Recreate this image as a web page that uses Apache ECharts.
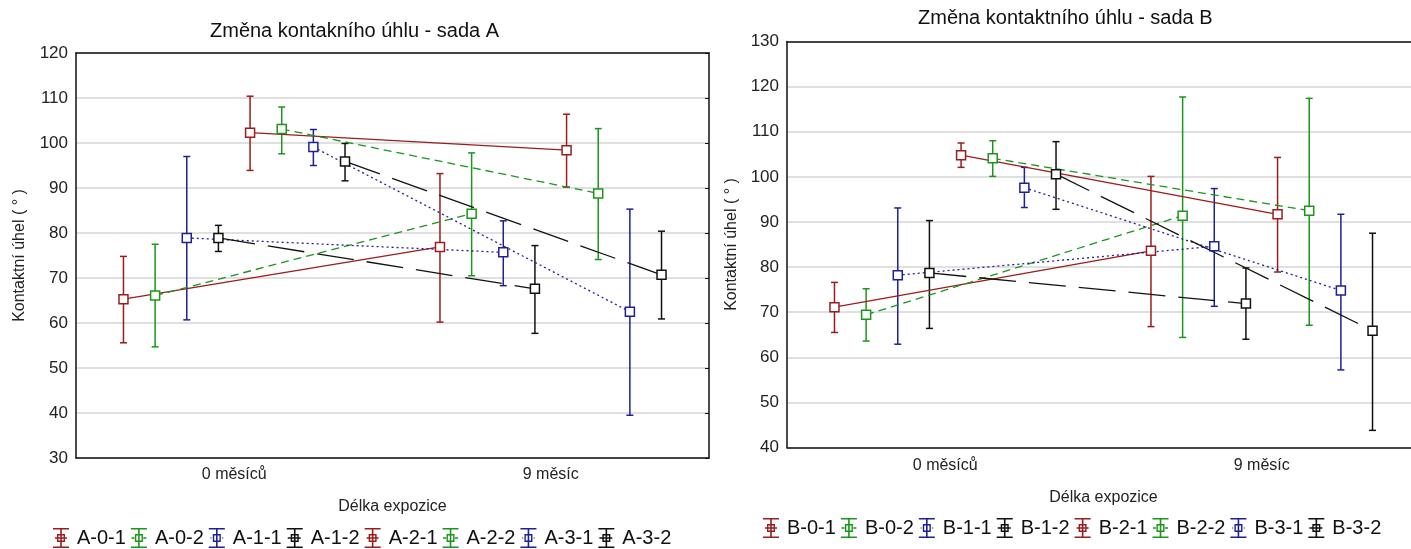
<!DOCTYPE html>
<html>
<head>
<meta charset="utf-8">
<script src="https://cdn.jsdelivr.net/npm/echarts@6/dist/echarts.min.js"></script>
<style>
  html, body { margin: 0; padding: 0; background: #ffffff; overflow: hidden; }
  #chart { width: 1430px; height: 549px; }
</style>
</head>
<body>
<div id="chart"></div>
<script>
// Exposure length categories
const categories = ['0 měsíců', '9 měsíc'];

// Set A: sample names, means and confidence limits at 0 and 9 months
const namesA  = ['A-0-1', 'A-0-2', 'A-1-1', 'A-1-2', 'A-2-1', 'A-2-2', 'A-3-1', 'A-3-2'];
const meanA0  = [65.3, 66.1, 78.9, 78.9, 102.3, 103.1, 99.1, 95.9];
const lowA0   = [55.6, 54.7, 60.7, 75.9, 93.9, 97.6, 95.0, 91.6];
const highA0  = [74.8, 77.5, 97.0, 81.7, 110.4, 108.0, 103.0, 99.9];
const meanA9  = [76.9, 84.3, 75.7, 67.6, 98.4, 88.8, 62.5, 70.7];
const lowA9   = [60.2, 70.5, 68.3, 57.7, 90.2, 74.1, 39.5, 60.9];
const highA9  = [93.2, 97.8, 82.7, 77.2, 106.4, 103.2, 85.3, 80.4];

// Set B
const namesB  = ['B-0-1', 'B-0-2', 'B-1-1', 'B-1-2', 'B-2-1', 'B-2-2', 'B-3-1', 'B-3-2'];
const meanB0  = [71.1, 69.4, 78.2, 78.7, 104.8, 104.1, 97.6, 100.6];
const lowB0   = [65.5, 63.6, 62.9, 66.4, 102.1, 100.1, 93.2, 92.8];
const highB0  = [76.6, 75.2, 93.1, 90.3, 107.5, 108.0, 102.1, 107.8];
const meanB9  = [83.6, 91.4, 84.6, 71.9, 91.7, 92.5, 74.8, 65.9];
const lowB9   = [66.8, 64.4, 71.3, 64.0, 78.9, 67.1, 57.2, 43.8];
const highB9  = [100.1, 117.7, 97.4, 79.8, 104.3, 117.4, 91.7, 87.5];

// Y-axis ranges
const yRangeA = [30, 120];
const yRangeB = [40, 130];

// Styling per series slot (repeats every 4 series)
const RED = '#9b1c1c', GREEN = '#1b961b', BLUE = '#1f1f99', BLACK = '#111111';
const palette = [RED, GREEN, BLUE, BLACK, RED, GREEN, BLUE, BLACK];
const dashes = ['solid', [8, 5], [2, 3], [37, 13], 'solid', [8, 5], [2, 3], [37, 13]];
const FONT = 'Liberation Sans, Arial, Helvetica, sans-serif';

// Legend glyph: capped error bar with a box marker and a short line stub
const glyphBase = 'M1 0H17V1.6H1Z M1 18.4H17V20H1Z M8.2 1.6H9.8V18.4H8.2Z ' +
  'M5 6H13V7.4H5Z M5 12.6H13V14H5Z M5 6H6.4V14H5Z M11.6 6H13V14H11.6Z';
const stubs = {
  solid:  'M3 9.3H15V10.7H3Z',
  dash:   'M1.5 9.3H4.6V10.7H1.5Z M13.4 9.3H16.5V10.7H13.4Z',
  dot:    'M2.6 9.4H3.8V10.6H2.6Z M14.2 9.4H15.4V10.6H14.2Z',
  long:   'M2 9.3H15V10.7H2Z'
};
const stubKind = ['solid', 'dash', 'dot', 'long', 'solid', 'dash', 'dot', 'long'];

// Horizontal offset of each series inside its category (fraction of a category)
function slot(i) { return (i - 3.5) * 0.1; }

function renderErrorBar(params, api) {
  const x = api.value(0), lo = api.value(1), hi = api.value(2), idx = api.value(3);
  const a = api.coord([x, lo]);
  const b = api.coord([x, hi]);
  const col = palette[idx];
  const cap = 3.5;
  const st = { stroke: col, lineWidth: 1.5 };
  return {
    type: 'group',
    children: [
      { type: 'line', shape: { x1: a[0], y1: a[1], x2: b[0], y2: b[1] }, style: st },
      { type: 'line', shape: { x1: a[0] - cap, y1: a[1], x2: a[0] + cap, y2: a[1] }, style: st },
      { type: 'line', shape: { x1: b[0] - cap, y1: b[1], x2: b[0] + cap, y2: b[1] }, style: st }
    ]
  };
}

function buildPanel(g, yRange) {
  const xAxes = [
    { // category axis carrying labels and bottom ticks
      type: 'category', gridIndex: g, data: categories, position: 'bottom',
      boundaryGap: true,
      axisLine: { onZero: false, lineStyle: { color: '#111', width: 1.5 } },
      axisTick: { inside: true, length: 4, alignWithLabel: true, lineStyle: { color: '#111' } },
      axisLabel: { fontFamily: FONT, fontSize: 16, color: '#222', margin: 9 },
      name: 'Délka expozice', nameLocation: 'middle', nameGap: 41,
      nameTextStyle: { fontFamily: FONT, fontSize: 16, color: '#222' }
    },
    { // frame on top
      type: 'category', gridIndex: g, data: categories, position: 'top',
      boundaryGap: true,
      axisLine: { onZero: false, lineStyle: { color: '#111', width: 1.5 } },
      axisTick: { inside: true, length: 4, alignWithLabel: true, lineStyle: { color: '#111' } },
      axisLabel: { show: false }
    },
    { // numeric axis used to place the points
      type: 'value', gridIndex: g, min: -0.5, max: 1.5, show: false,
      axisLine: { onZero: false }
    }
  ];
  const yAxes = [
    {
      type: 'value', gridIndex: g, min: yRange[0], max: yRange[1], interval: 10,
      position: 'left',
      axisLine: { show: true, onZero: false, lineStyle: { color: '#111', width: 1.5 } },
      axisTick: { show: false },
      axisLabel: { fontFamily: FONT, fontSize: 17, color: '#222', margin: 8 },
      splitLine: { show: true, lineStyle: { color: '#d6d6d6', width: 1.5 } },
      name: 'Kontaktní úhel ( ° )', nameLocation: 'middle', nameGap: 48,
      nameTextStyle: { fontFamily: FONT, fontSize: 16, color: '#222' }
    },
    {
      type: 'value', gridIndex: g, min: yRange[0], max: yRange[1], interval: 10,
      position: 'right',
      axisLine: { show: true, onZero: false, lineStyle: { color: '#111', width: 1.5 } },
      axisTick: { show: true, inside: true, length: 4, lineStyle: { color: '#111' } },
      axisLabel: { show: false },
      splitLine: { show: false }
    }
  ];
  return { xAxes, yAxes };
}

const panelA = buildPanel(0, yRangeA);
const panelB = buildPanel(1, yRangeB);
panelB.yAxes[0].nameGap = 47;
panelB.xAxes[0].axisLabel.margin = 10;
panelB.xAxes[0].nameGap = 42;

const xAxis = panelA.xAxes.concat(panelB.xAxes);   // indices 0-2 (A), 3-5 (B)
const yAxis = panelA.yAxes.concat(panelB.yAxes);   // indices 0-1 (A), 2-3 (B)

// Each sample: a custom error-bar series (drives the legend glyph) and a line with box markers
function panelSeries(names, mean0, mean9, low0, high0, low9, high9, xIdx, yIdx) {
  const out = [];
  names.forEach((n, i) => {
    out.push({
      type: 'custom',
      name: n,
      xAxisIndex: xIdx, yAxisIndex: yIdx,
      dimensions: ['x', 'low', 'high', 'idx'],
      encode: { x: 0, y: [1, 2] },
      data: [
        [0 + slot(i), low0[i], high0[i], i],
        [1 + slot(i), low9[i], high9[i], i]
      ],
      itemStyle: { color: palette[i] },
      renderItem: renderErrorBar,
      z: 2, silent: true, clip: false
    });
  });
  names.forEach((n, i) => {
    out.push({
      type: 'line',
      name: n,
      xAxisIndex: xIdx, yAxisIndex: yIdx,
      data: [[0 + slot(i), mean0[i]], [1 + slot(i), mean9[i]]],
      symbol: 'rect', symbolSize: 9,
      itemStyle: { color: '#ffffff', borderColor: palette[i], borderWidth: 1.5 },
      lineStyle: { color: palette[i], width: 1.3, type: dashes[i] },
      z: 3, silent: true, animation: false, clip: false
    });
  });
  return out;
}

function legendData(names) {
  return names.map((n, i) => ({
    name: n,
    icon: 'path://' + glyphBase + ' ' + stubs[stubKind[i]],
    itemStyle: { color: palette[i], borderWidth: 0 }
  }));
}

const option = {
  backgroundColor: '#ffffff',
  animation: false,
  title: [
    { text: 'Změna kontakního úhlu - sada A', left: 210, top: 21, padding: 0,
      textStyle: { fontFamily: FONT, fontSize: 20, fontWeight: 'normal', color: '#111' } },
    { text: 'Změna kontaktního úhlu - sada B', left: 918, top: 8, padding: 0,
      textStyle: { fontFamily: FONT, fontSize: 20, fontWeight: 'normal', color: '#111' } }
  ],
  grid: [
    { left: 76, top: 53, width: 633, height: 405, outerBoundsMode: 'none' },
    { left: 787, top: 41.5, width: 633, height: 406, outerBoundsMode: 'none' }
  ],
  legend: [
    { data: legendData(namesA), left: 53, top: 528, padding: 0, itemGap: 5,
      itemWidth: 18, itemHeight: 20, selectedMode: false,
      textStyle: { fontFamily: FONT, fontSize: 20, color: '#111', padding: [0, 0, 0, 2] } },
    { data: legendData(namesB), left: 763, top: 518, padding: 0, itemGap: 5,
      itemWidth: 18, itemHeight: 20, selectedMode: false,
      textStyle: { fontFamily: FONT, fontSize: 20, color: '#111', padding: [0, 0, 0, 2] } }
  ],
  xAxis: xAxis,
  yAxis: yAxis,
  series: panelSeries(namesA, meanA0, meanA9, lowA0, highA0, lowA9, highA9, 2, 0)
    .concat(panelSeries(namesB, meanB0, meanB9, lowB0, highB0, lowB9, highB9, 5, 2))
};

const chart = echarts.init(document.getElementById('chart'), null, { renderer: 'canvas' });
chart.setOption(option);
</script>
</body>
</html>
